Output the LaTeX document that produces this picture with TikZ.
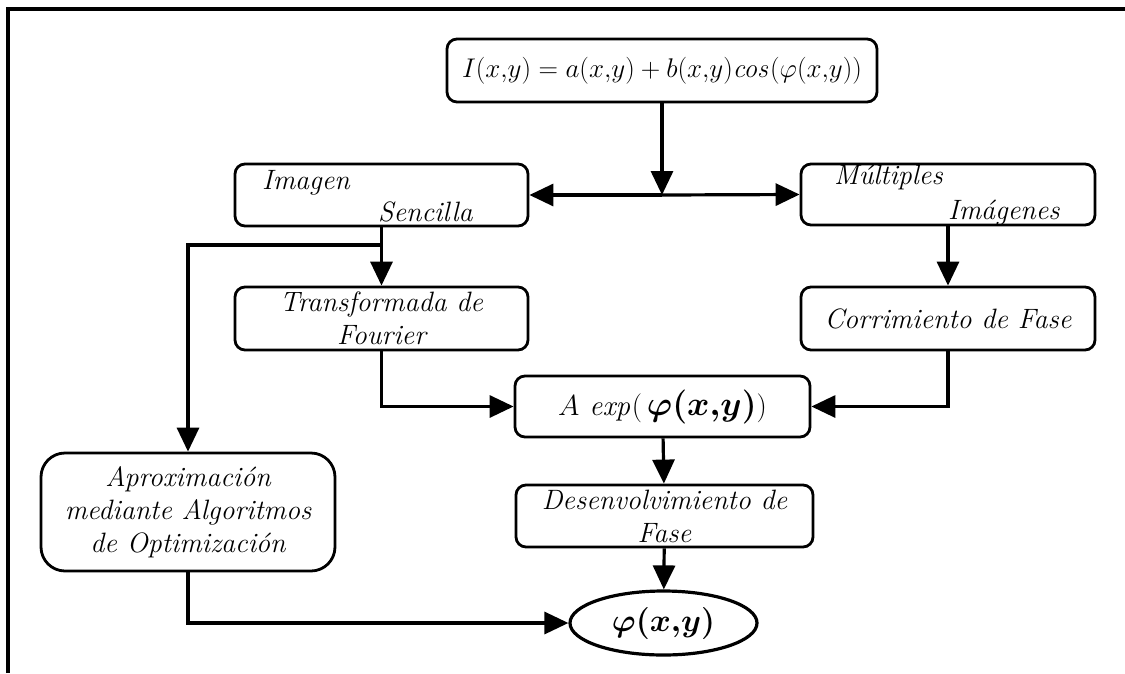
\RequirePackage{fix-cm}
\documentclass[tikz,border=0pt]{standalone}
\usepackage{bm}
\usetikzlibrary{arrows.meta,shapes.geometric}
\begin{document}
\begin{tikzpicture}[x=1pt,y=-1pt,
  box/.style={draw, rounded corners=10pt, line width=2.8pt, inner sep=0pt,
    font=\fontsize{28}{33}\selectfont\itshape, align=center},
  arr/.style={-{Triangle[width=22pt,length=24pt]}, line width=3.2pt},
  ln/.style={line width=3.2pt},
  txt/.style={font=\fontsize{28}{33}\selectfont\itshape, inner sep=0pt}]
\useasboundingbox (0,0) rectangle (1125,673);
\draw[line width=4pt] (8,673) -- (8,9) -- (1125,9);

\node[box, minimum width=430pt, minimum height=63pt] (top) at (662,70.5)
  {\fontsize{27}{30}\selectfont $I(x{,}y) = a(x{,}y) + b(x{,}y)\mathit{cos}(\varphi(x{,}y))$};

\node[box, minimum width=293pt, minimum height=62pt] (img) at (381.5,195) {};
\node[txt, anchor=base west] (imgA) at (262,189) {Imagen};
\node[txt, anchor=base west] (imgB) at (378,221) {Sencilla};

\node[box, minimum width=294pt, minimum height=61pt] (mult) at (948,194.5) {};
\node[txt, anchor=base west] (multA) at (834,184) {Múltiples};
\node[txt, anchor=base west] (multB) at (948,219) {Imágenes};

\node[box, minimum width=293pt, minimum height=63pt] (tf) at (381.5,318.5)
  {Transformada de\\Fourier};
\node[box, minimum width=294pt, minimum height=63pt] (cf) at (948,318.5)
  {Corrimiento de Fase};

\node[box, minimum width=295pt, minimum height=61pt] (aexp) at (662.5,406.5)
  {\fontsize{29}{32}\selectfont $A\ \mathit{exp}($\,\fontsize{34}{36}\selectfont$\bm{\varphi(x{,}y)}$\fontsize{29}{32}\selectfont$)$};

\node[box, minimum width=297pt, minimum height=62pt] (des) at (664.5,516)
  {Desenvolvimiento de\\Fase};

\node[box, rounded corners=24pt, minimum width=294pt, minimum height=118pt] (apx) at (188,512)
  {Aproximación\\mediante Algoritmos\\de Optimización};

\node[draw, ellipse, line width=3.2pt, inner sep=0pt, minimum width=187pt, minimum height=64pt] (phi) at (663.5,623)
  {\fontsize{32}{34}\selectfont $\bm{\varphi(x{,}y)}$};

\coordinate (mid) at (662,195);
\coordinate (br) at (381.5,245);

\draw[arr] (top) -- (mid);
\draw[arr] (mid) -- (img.east);
\draw[arr] (mid) -- (mult.west);
\draw[ln] (img.south) -- (br);
\draw[arr] (br) -- (tf.north);
\draw[arr] (br) -| (apx.north);
\draw[arr] (mult.south) -- (cf.north);
\draw[arr] (tf.south) |- (aexp.west);
\draw[arr] (cf.south) |- (aexp.east);
\draw[arr] (aexp) -- (des);
\draw[arr] (des) -- (phi);
\draw[arr] (apx.south) |- (phi.west);
\end{tikzpicture}
\end{document}
